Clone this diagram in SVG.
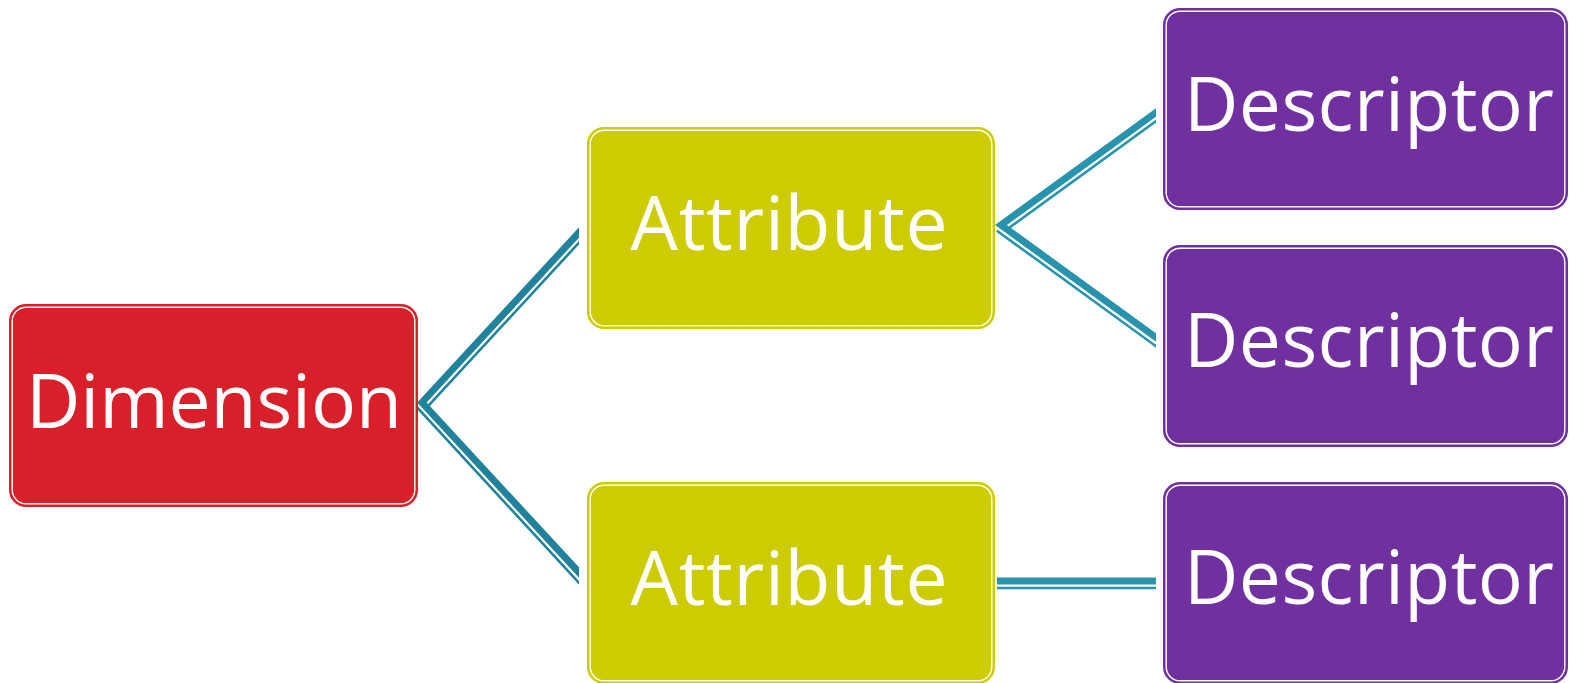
<svg xmlns="http://www.w3.org/2000/svg" width="1570" height="683" viewBox="0 0 1570 683">
  <style>
    .outer { stroke-width: 2; }
    .inner { fill: none; stroke: #ffffff; stroke-width: 1.4; }
    .red { fill: #d91f29; stroke: #d91f29; }
    .lime { fill: #cccc00; stroke: #cccc00; }
    .purple { fill: #7030a0; stroke: #7030a0; }
    .label { font-family: "Open Sans", "Noto Sans", "DejaVu Sans", sans-serif; font-size: 75px; fill: #ffffff; text-anchor: middle; }
    .thickL { fill: none; stroke: #21829c; stroke-width: 7; stroke-linejoin: miter; }
    .thinL { fill: none; stroke: #21829c; stroke-width: 2.6; }
    .thickR { fill: none; stroke: #2893ad; stroke-width: 7; stroke-linejoin: miter; }
    .thinR { fill: none; stroke: #2893ad; stroke-width: 2.6; }
  </style>
  <defs>
    <clipPath id="connClip">
      <rect x="400" y="0" width="179" height="683"/>
      <rect x="985" y="0" width="171" height="683"/>
    </clipPath>
  </defs>
  <rect width="1570" height="683" fill="#ffffff"/>

  <g id="connectors" clip-path="url(#connClip)">
    <!-- Dimension to Attributes -->
    <polyline class="thickL" points="586,224.9 422,402.5 586,580.1"/>
    <line class="thinL" x1="427.1" y1="407.2" x2="586" y2="235.1"/>
    <line class="thinL" x1="416.9" y1="407.2" x2="586" y2="590.4"/>
    <!-- Attribute 1 to Descriptors 1,2 -->
    <polyline class="thickR" points="1162,108.1 1001,225 1162,341.9"/>
    <line class="thinR" x1="1005.1" y1="230.7" x2="1162" y2="116.8"/>
    <line class="thinR" x1="996.9" y1="230.7" x2="1162" y2="350.6"/>
    <!-- Attribute 2 to Descriptor 3 -->
    <line class="thickR" x1="997" y1="581" x2="1162" y2="581"/>
    <line class="thinR" x1="997" y1="588" x2="1162" y2="588"/>
  </g>

  <g id="node-dimension">
    <rect class="outer red" x="10" y="305" width="407" height="201" rx="16"/>
    <rect class="inner" x="12.2" y="307.2" width="402.6" height="196.6" rx="14"/>
    <text class="label" x="214" y="428" textLength="376">Dimension</text>
  </g>

  <g id="node-attribute-1">
    <rect class="outer lime" x="588" y="128" width="406" height="200" rx="16"/>
    <rect class="inner" x="590.2" y="130.2" width="401.6" height="195.6" rx="14"/>
    <text class="label" x="789" y="250" textLength="317">Attribute</text>
  </g>

  <g id="node-attribute-2">
    <rect class="outer lime" x="588" y="483" width="406" height="200" rx="16"/>
    <rect class="inner" x="590.2" y="485.2" width="401.6" height="195.6" rx="14"/>
    <text class="label" x="789" y="605" textLength="317">Attribute</text>
  </g>

  <g id="node-descriptor-1">
    <rect class="outer purple" x="1164" y="9" width="403" height="200" rx="16"/>
    <rect class="inner" x="1166.2" y="11.2" width="398.6" height="195.6" rx="14"/>
    <text class="label" x="1369" y="131" textLength="370">Descriptor</text>
  </g>

  <g id="node-descriptor-2">
    <rect class="outer purple" x="1164" y="246" width="403" height="200" rx="16"/>
    <rect class="inner" x="1166.2" y="248.2" width="398.6" height="195.6" rx="14"/>
    <text class="label" x="1369" y="367" textLength="370">Descriptor</text>
  </g>

  <g id="node-descriptor-3">
    <rect class="outer purple" x="1164" y="483" width="403" height="200" rx="16"/>
    <rect class="inner" x="1166.2" y="485.2" width="398.6" height="195.6" rx="14"/>
    <text class="label" x="1369" y="604" textLength="370">Descriptor</text>
  </g>
</svg>
